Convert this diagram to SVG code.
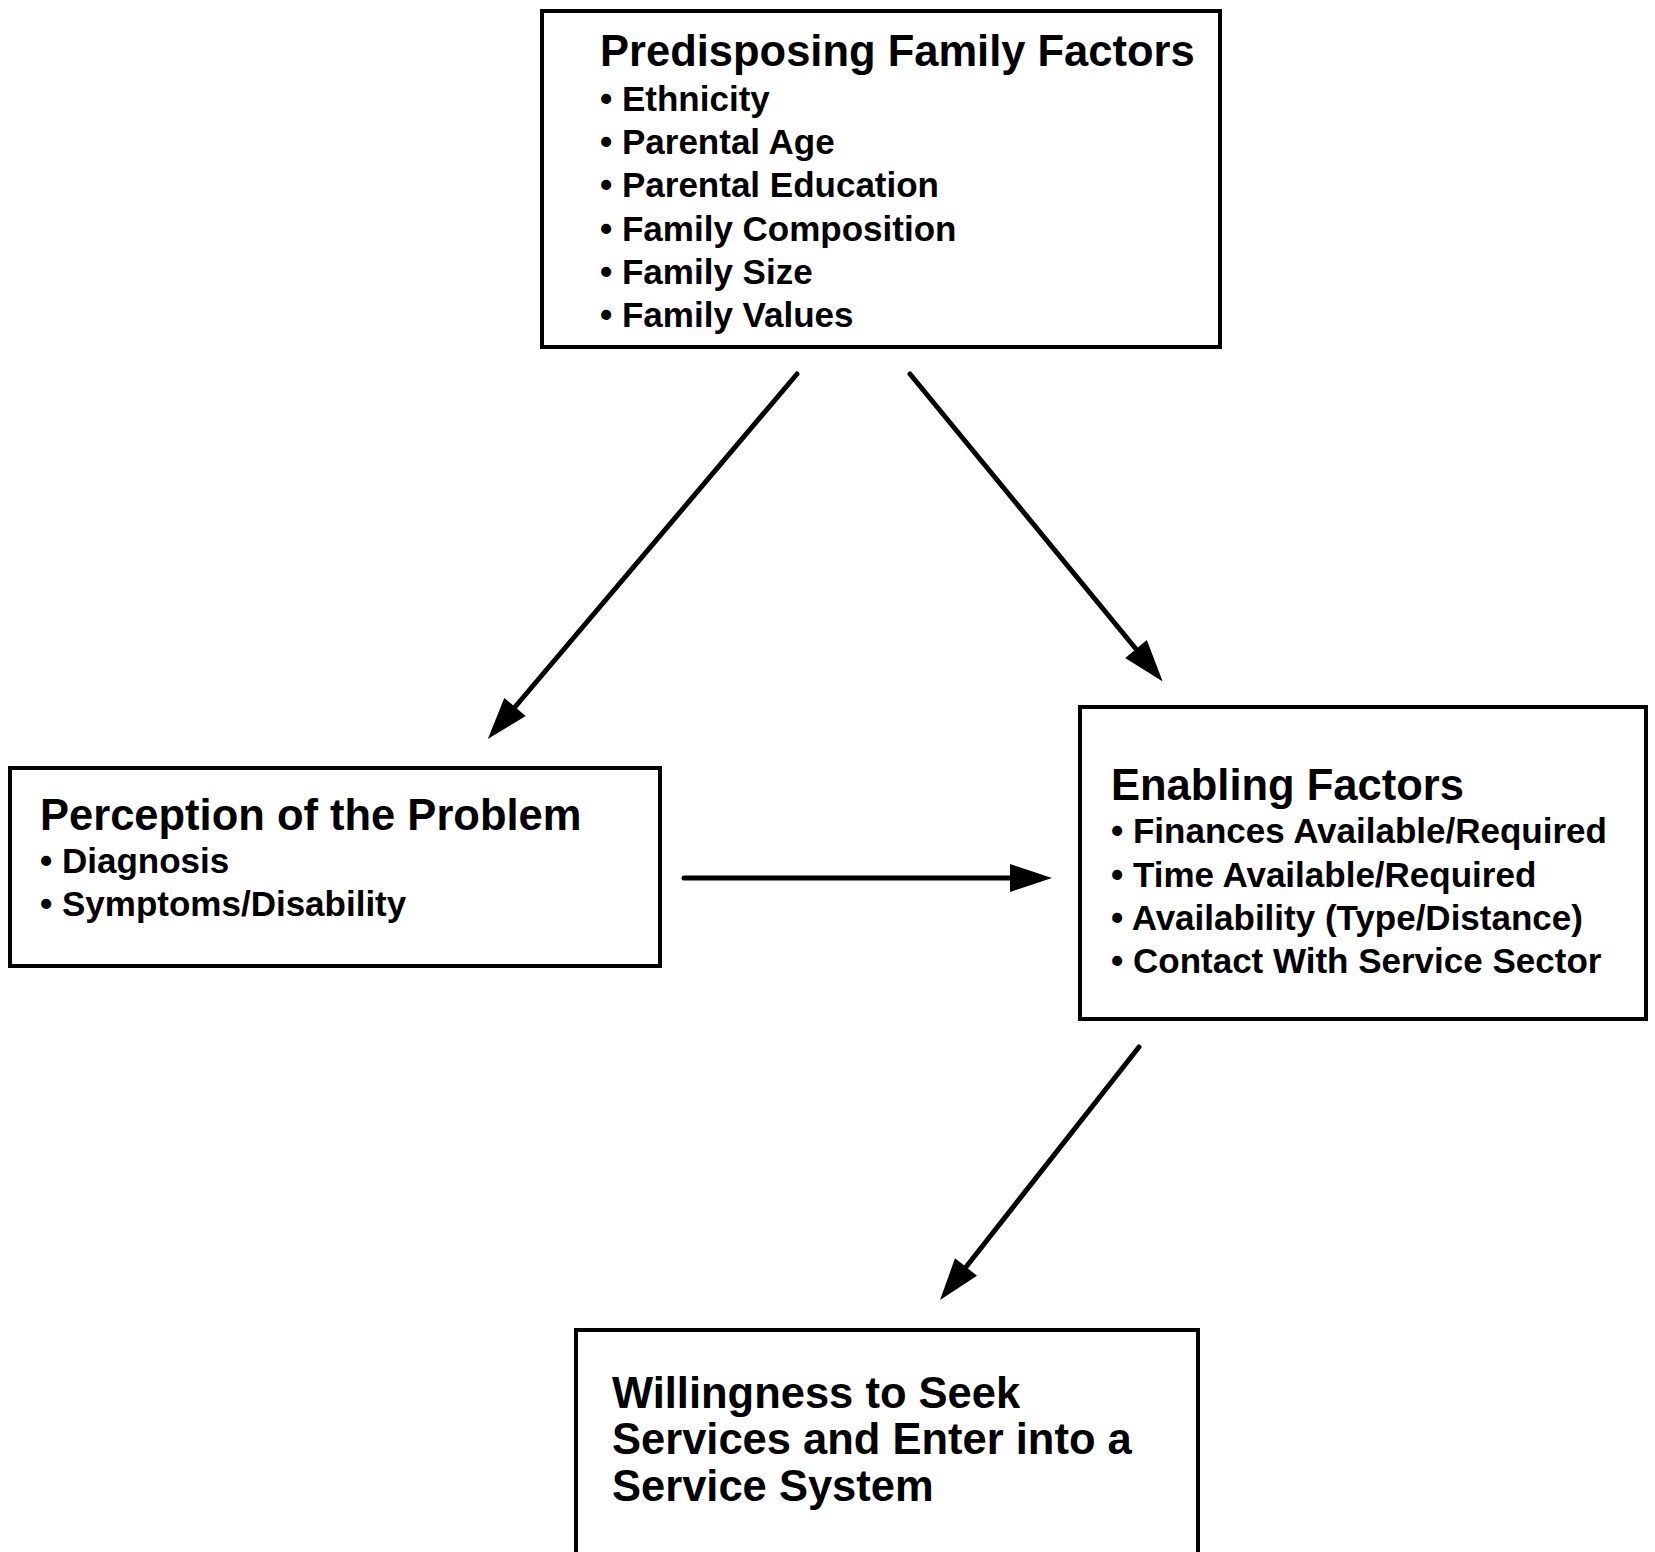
<svg xmlns="http://www.w3.org/2000/svg" width="1655" height="1552" viewBox="0 0 1655 1552">
<style>
.box{fill:#fff;stroke:#000;stroke-width:4}
.t{font-family:"Liberation Sans",Arial,sans-serif;font-weight:bold;fill:#000}
.h{font-size:43.5px}
.b{font-size:35px}
.c{stroke:#000;stroke-width:5;stroke-linecap:round;fill:none}
</style>
<defs>
<marker id="ah" markerUnits="userSpaceOnUse" markerWidth="44" markerHeight="28" refX="0" refY="14" orient="auto" overflow="visible">
<path d="M0,0 L42,14 L0,28 Z" fill="#000"/>
</marker>
</defs>
<rect width="1655" height="1552" fill="#fff"/>
<g id="predisposing">
<rect class="box" x="542" y="11" width="678" height="336"/>
<text class="t h" x="600" y="66">Predisposing Family Factors</text>
<text class="t b" x="600" y="111">• Ethnicity</text>
<text class="t b" x="600" y="154">• Parental Age</text>
<text class="t b" x="600" y="197">• Parental Education</text>
<text class="t b" x="600" y="241">• Family Composition</text>
<text class="t b" x="600" y="284">• Family Size</text>
<text class="t b" x="600" y="327">• Family Values</text>
</g>
<g id="perception">
<rect class="box" x="10" y="768" width="650" height="198"/>
<text class="t h" x="40" y="830">Perception of the Problem</text>
<text class="t b" x="40" y="873">• Diagnosis</text>
<text class="t b" x="40" y="916">• Symptoms/Disability</text>
</g>
<g id="enabling">
<rect class="box" x="1080" y="707" width="566" height="312"/>
<text class="t h" x="1111" y="800">Enabling Factors</text>
<text class="t b" x="1111" y="843">• Finances Available/Required</text>
<text class="t b" x="1111" y="887">• Time Available/Required</text>
<text class="t b" x="1111" y="930">• Availability (Type/Distance)</text>
<text class="t b" x="1111" y="973">• Contact With Service Sector</text>
</g>
<g id="willingness">
<rect class="box" x="576" y="1330" width="622" height="240"/>
<text class="t h" x="612" y="1408">Willingness to Seek</text>
<text class="t h" x="612" y="1454">Services and Enter into a</text>
<text class="t h" x="612" y="1501">Service System</text>
</g>
<g id="connectors">
<line class="c" x1="797" y1="374" x2="515" y2="707" marker-end="url(#ah)"/>
<line class="c" x1="910" y1="374" x2="1136" y2="649" marker-end="url(#ah)"/>
<line class="c" x1="684" y1="878" x2="1010" y2="878" marker-end="url(#ah)"/>
<line class="c" x1="1139" y1="1047" x2="966" y2="1267" marker-end="url(#ah)"/>
</g>
</svg>
